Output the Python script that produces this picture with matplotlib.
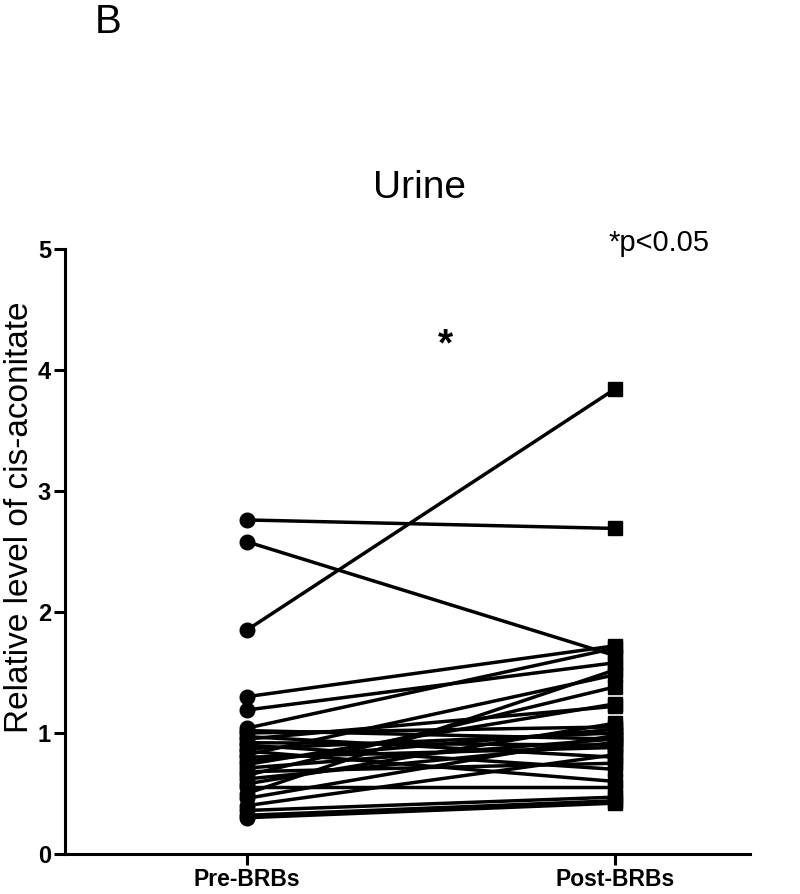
import numpy as np
import matplotlib.pyplot as plt

plt.rcParams['font.family'] = ['Liberation Sans', 'DejaVu Sans']

groups = ['Pre-BRBs', 'Post-BRBs']
pre = [2.76, 2.58, 1.85, 1.30, 1.19, 1.04, 1.02, 1.00, 0.97, 0.95,
       0.92, 0.90, 0.87, 0.85, 0.82, 0.80, 0.77, 0.74, 0.71, 0.68,
       0.65, 0.62, 0.58, 0.55, 0.50, 0.46, 0.40, 0.36, 0.32, 0.30]
post = [2.69, 1.64, 3.84, 1.72, 1.58, 1.70, 0.95, 1.05, 0.80, 1.22,
        0.90, 0.70, 1.00, 0.60, 1.48, 0.88, 1.03, 1.24, 0.95, 0.75,
        1.38, 0.92, 1.08, 0.55, 1.52, 0.98, 0.82, 0.47, 0.44, 0.42]
yticks = [0, 1, 2, 3, 4, 5]

fig = plt.figure(figsize=(8, 8.94), dpi=100)
ax = fig.add_axes([0.081, 0.0447, 0.856, 0.677])

for a, b in zip(pre, post):
    ax.plot([0, 1], [a, b], color='black', lw=2.5, zorder=2)
ax.plot(np.zeros(len(pre)), pre, 'o', color='black', ms=10.5, zorder=3)
ax.plot(np.ones(len(post)), post, 's', color='black', ms=9.5, zorder=3)

ax.set_xlim(-0.495, 1.367)
ax.set_ylim(0, 5)
ax.set_xticks([0, 1])
ax.set_xticklabels(groups, fontsize=16.5, fontweight='bold')
ax.set_yticks(yticks)
ax.set_yticklabels([str(t) for t in yticks], fontsize=17, fontweight='bold')
ax.tick_params(width=2.2, length=8, direction='out', pad=2)
for s in ['top', 'right']:
    ax.spines[s].set_visible(False)
for s in ['left', 'bottom']:
    ax.spines[s].set_linewidth(2.2)
ax.set_ylabel('Relative level of cis-aconitate', fontsize=24)
ax.yaxis.set_label_coords(-0.044, 0.557)

ax.text(0.518, 1.07, 'Urine', transform=ax.transAxes, ha='center', va='bottom', fontsize=28)
ax.text(1.12, 4.93, '*p<0.05', ha='center', va='bottom', fontsize=21)
ax.text(0.54, 4.2, '*', ha='center', va='center', fontsize=28, fontweight='bold')
fig.text(0.118, 0.975, 'B', ha='left', va='center', fontsize=29)

fig.savefig('out.png')
